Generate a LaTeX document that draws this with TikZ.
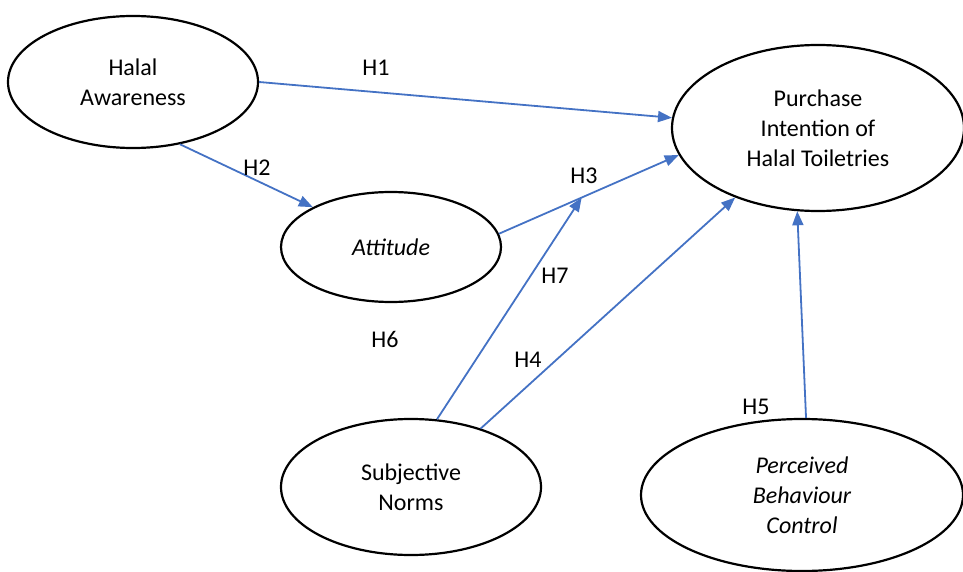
\documentclass[tikz,border=0pt]{standalone}
\usepackage{fontspec}
\setmainfont{Carlito}
\usetikzlibrary{shapes.geometric,arrows.meta,calc}
\definecolor{arrblue}{HTML}{4472C4}
\begin{document}
\begin{tikzpicture}[x=1pt,y=-1pt,
  construct/.style={draw=black,line width=2.2pt,ellipse,inner sep=0pt,align=center,
    font=\fontsize{24}{30}\selectfont},
  path/.style={draw=arrblue,line width=1.8pt,-{Triangle[length=14pt,width=11pt]}},
  hlabel/.style={font=\fontsize{24}{30}\selectfont,inner sep=0pt}]
\useasboundingbox (0,0) rectangle (963,572);
\node[construct,minimum width=250pt,minimum height=132pt] (aw) at (133,82) {Halal\\Awareness};
\node[construct,minimum width=292pt,minimum height=166pt] (pi) at (818,128) {Purchase\\Intention of\\Halal Toiletries};
\node[construct,minimum width=220pt,minimum height=110pt] (att) at (391,247) {\itshape Attitude};
\node[construct,minimum width=260pt,minimum height=136pt] (sn) at (411,487) {Subjective\\Norms};
\node[construct,minimum width=322pt,minimum height=152pt] (pbc) at (802,495) {\itshape Perceived\\\itshape Behaviour\\\itshape Control};
\draw[path] (aw.0.5) -- (pi.176);
\draw[path] (aw.-53) -- (att.153);
\draw[path] (att.7) -- (pi.191);
\coordinate (mod) at ($(att.7)!0.46!(pi.191)$);
\draw[path] (sn.69) -- (mod);
\draw[path] (sn.40) -- (pi.220);
\draw[path] (pbc.87) -- (pi.256);
\node[hlabel] (h1) at (376,68) {H1};
\node[hlabel] (h2) at (257,168) {H2};
\node[hlabel] (h3) at (584,176) {H3};
\node[hlabel] (h7) at (555,276) {H7};
\node[hlabel] (h6) at (385,339) {H6};
\node[hlabel] (h4) at (528,360) {H4};
\node[hlabel] (h5) at (756,407) {H5};
\end{tikzpicture}
\end{document}
